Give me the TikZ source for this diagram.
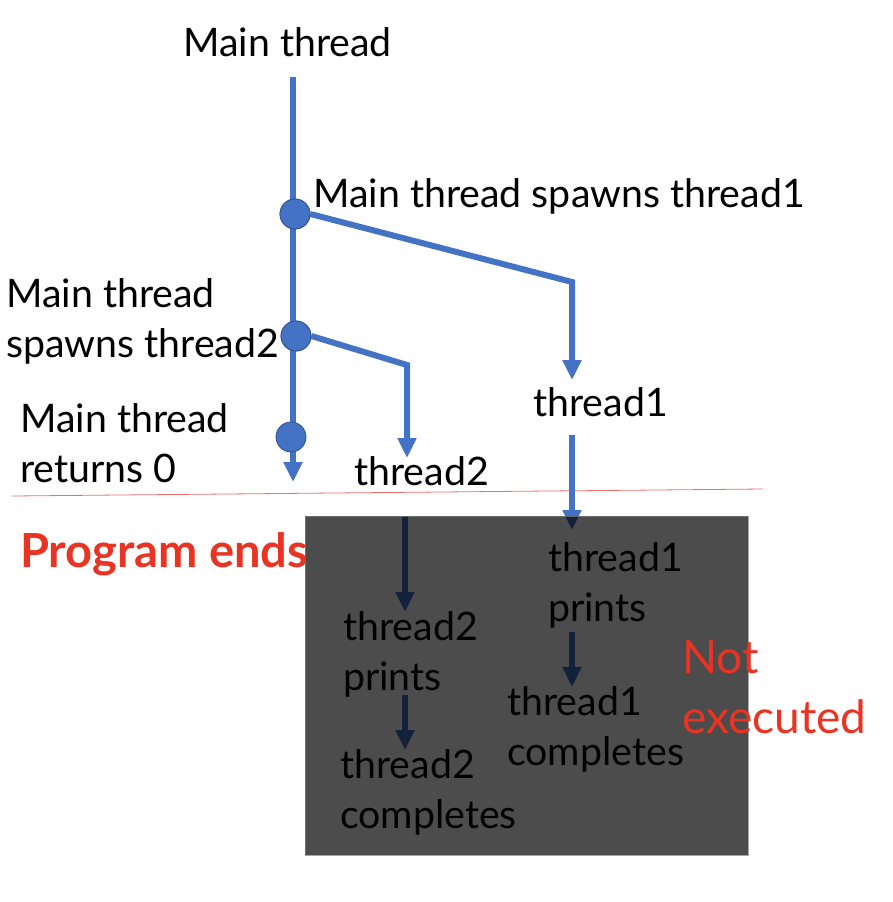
\documentclass[tikz,border=0pt]{standalone}
\usepackage{fontspec}
\setmainfont{Lato}
\usepackage{tikz}
\usetikzlibrary{arrows.meta,positioning}
\definecolor{thr}{RGB}{68,114,196}
\definecolor{thrdark}{RGB}{47,82,143}
\definecolor{endred}{RGB}{233,51,35}
\definecolor{endline}{RGB}{238,110,110}

\begin{document}
\begin{tikzpicture}[x=1pt,y=-1pt,
		font=\fontsize{39.3}{50}\selectfont,
		lbl/.style={anchor=base west,inner sep=0pt,align=left},
		flow/.style={color=thr,line width=6pt,-{Triangle[width=18pt,length=20pt]}},
		spawn/.style={circle,fill=thr,draw=thrdark,thick,minimum size=30pt,inner sep=0pt}]
		\useasboundingbox (0,0) rectangle (893,902);
		% main thread
		\coordinate (mtop) at (293,77);
		\coordinate (mend) at (293,482);
		\coordinate (bend1) at (572,282);
		\coordinate (tip1) at (572,380);
		\coordinate (bend2) at (407,365);
		\coordinate (tip2) at (407,458);
		\node[lbl] (lmain) at (183,56) {Main thread};
		\draw[flow] (mtop) -- (mend);
		\node[spawn] (sp1) at (295,214) {};
		\node[spawn] (sp2) at (296,336) {};
		\node[spawn] (ret) at (291,437) {};
		\draw[flow] (sp1.east) -- (bend1) -- (tip1);
		\draw[flow] (sp2.east) -- (bend2) -- (tip2);
		\node[spawn] at (sp1) {};
		\node[spawn] at (sp2) {};
		\node[lbl] (lsp1) at (313,207) {Main thread spawns thread1};
		\node[lbl] (lsp2) at (6,357) {Main thread\\spawns thread2};
		\node[lbl] (lret) at (20,482) {Main thread\\returns 0};
		\node[lbl] (t1) at (533,416) {thread1};
		\node[lbl] (t2) at (354,485) {thread2};
		\draw[color=endline,thick] (12,496) coordinate (lineA) -- (763,489) coordinate (lineB);
		\node[lbl,color=endred,font=\fontsize{47}{55}\selectfont\bfseries] (pend) at (20,567) {Program ends};
		% threads after the end
		\coordinate (t1start) at (572,435);
		\coordinate (t1tip) at (572,530);
		\coordinate (t2start) at (405,516);
		\coordinate (t2tip) at (405,612);
		\draw[flow] (t1start) -- (t1tip);
		\draw[flow] (t2start) -- (t2tip);
		\node[lbl] (t2p) at (343,690) {thread2\\prints};
		\node[lbl] (t2c) at (340,828) {thread2\\completes};
		\node[lbl] (t1p) at (548,621) {thread1\\prints};
		\node[lbl] (t1c) at (507,765) {thread1\\completes};
		\draw[flow] (405,695) coordinate (t2a) -- (405,750) coordinate (t2b);
		\draw[flow] (572,632) coordinate (t1a) -- (572,687) coordinate (t1b);
		\fill[black,opacity=0.7,draw=gray] (305,516) rectangle (748,855);
		\node[lbl,color=endred,font=\fontsize{46}{60}\selectfont] (notex) at (682,733) {Not\\executed};
		\end{tikzpicture}
\end{document}
